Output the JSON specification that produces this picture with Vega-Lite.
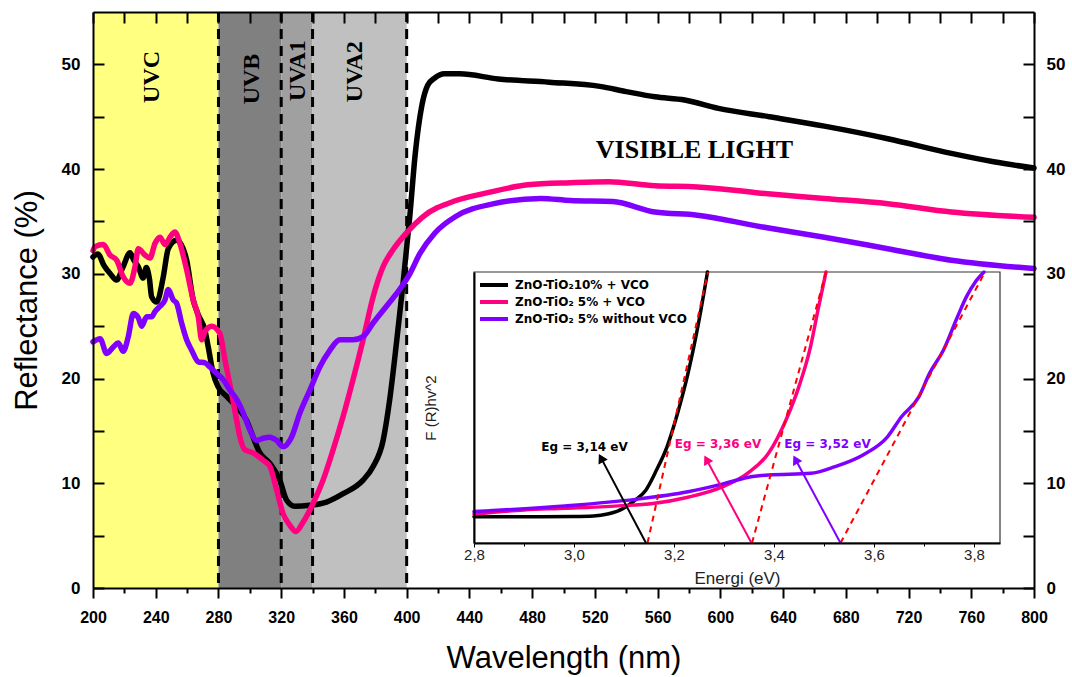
{
  "$schema": "https://vega.github.io/schema/vega-lite/v6.json",
  "width": 941,
  "height": 576,
  "autosize": {"type": "none"},
  "padding": {"left": 93, "top": 12, "right": 38, "bottom": 89},
  "background": "white",
  "config": {"view": {"stroke": null}, "font": "Liberation Sans"},
  "datasets": {
    "bands": [
      {"band": "UVC", "start": 200, "end": 280},
      {"band": "UVB", "start": 280, "end": 320},
      {"band": "UVA1", "start": 320, "end": 340},
      {"band": "UVA2", "start": 340, "end": 400}
    ],
    "bounds": [{"wl": 280}, {"wl": 320}, {"wl": 340}, {"wl": 400}],
    "bandLabels": [
      {"label": "UVC", "wl": 237.6, "R": 48.8},
      {"label": "UVB", "wl": 301.3, "R": 48.6},
      {"label": "UVA1", "wl": 330.6, "R": 49.4},
      {"label": "UVA2", "wl": 366.9, "R": 49.3}
    ],
    "visible": [{"label": "VISIBLE LIGHT", "wl": 583.5, "R": 41.8}],
    "frame": [{"x1": 2.8, "x2": 3.852, "y1": 0, "y2": 100}],
    "main": [
      {"series": "ZnO-TiO₂10% + VCO", "wl": 200, "R": 31.6},
      {"series": "ZnO-TiO₂10% + VCO", "wl": 203, "R": 31.9},
      {"series": "ZnO-TiO₂10% + VCO", "wl": 207, "R": 30.8},
      {"series": "ZnO-TiO₂10% + VCO", "wl": 211, "R": 30.0},
      {"series": "ZnO-TiO₂10% + VCO", "wl": 215, "R": 29.4},
      {"series": "ZnO-TiO₂10% + VCO", "wl": 219, "R": 30.6},
      {"series": "ZnO-TiO₂10% + VCO", "wl": 223.6, "R": 32.0},
      {"series": "ZnO-TiO₂10% + VCO", "wl": 226, "R": 31.3},
      {"series": "ZnO-TiO₂10% + VCO", "wl": 228.8, "R": 30.7},
      {"series": "ZnO-TiO₂10% + VCO", "wl": 232, "R": 29.6},
      {"series": "ZnO-TiO₂10% + VCO", "wl": 234, "R": 30.6},
      {"series": "ZnO-TiO₂10% + VCO", "wl": 236, "R": 29.5},
      {"series": "ZnO-TiO₂10% + VCO", "wl": 237.4, "R": 27.8},
      {"series": "ZnO-TiO₂10% + VCO", "wl": 240.6, "R": 27.3},
      {"series": "ZnO-TiO₂10% + VCO", "wl": 244.8, "R": 29.7},
      {"series": "ZnO-TiO₂10% + VCO", "wl": 248, "R": 32.4},
      {"series": "ZnO-TiO₂10% + VCO", "wl": 253.3, "R": 33.2},
      {"series": "ZnO-TiO₂10% + VCO", "wl": 257.5, "R": 32.4},
      {"series": "ZnO-TiO₂10% + VCO", "wl": 259.7, "R": 31.3},
      {"series": "ZnO-TiO₂10% + VCO", "wl": 263.9, "R": 27.5},
      {"series": "ZnO-TiO₂10% + VCO", "wl": 267.1, "R": 26.1},
      {"series": "ZnO-TiO₂10% + VCO", "wl": 271.4, "R": 24.6},
      {"series": "ZnO-TiO₂10% + VCO", "wl": 273.5, "R": 23.0},
      {"series": "ZnO-TiO₂10% + VCO", "wl": 276.6, "R": 20.5},
      {"series": "ZnO-TiO₂10% + VCO", "wl": 279.8, "R": 19.2},
      {"series": "ZnO-TiO₂10% + VCO", "wl": 285.2, "R": 18.3},
      {"series": "ZnO-TiO₂10% + VCO", "wl": 291.5, "R": 17.3},
      {"series": "ZnO-TiO₂10% + VCO", "wl": 297.9, "R": 16.0},
      {"series": "ZnO-TiO₂10% + VCO", "wl": 301.1, "R": 14.8},
      {"series": "ZnO-TiO₂10% + VCO", "wl": 306.4, "R": 12.9},
      {"series": "ZnO-TiO₂10% + VCO", "wl": 312.8, "R": 11.9},
      {"series": "ZnO-TiO₂10% + VCO", "wl": 319.1, "R": 10.3},
      {"series": "ZnO-TiO₂10% + VCO", "wl": 323.4, "R": 8.4},
      {"series": "ZnO-TiO₂10% + VCO", "wl": 328.7, "R": 7.8},
      {"series": "ZnO-TiO₂10% + VCO", "wl": 338.3, "R": 7.9},
      {"series": "ZnO-TiO₂10% + VCO", "wl": 348.9, "R": 8.2},
      {"series": "ZnO-TiO₂10% + VCO", "wl": 359.5, "R": 9.0},
      {"series": "ZnO-TiO₂10% + VCO", "wl": 372.2, "R": 10.3},
      {"series": "ZnO-TiO₂10% + VCO", "wl": 378.6, "R": 11.6},
      {"series": "ZnO-TiO₂10% + VCO", "wl": 385, "R": 14.1},
      {"series": "ZnO-TiO₂10% + VCO", "wl": 389.2, "R": 18.0},
      {"series": "ZnO-TiO₂10% + VCO", "wl": 393.5, "R": 23.4},
      {"series": "ZnO-TiO₂10% + VCO", "wl": 397.7, "R": 29.1},
      {"series": "ZnO-TiO₂10% + VCO", "wl": 402, "R": 35.5},
      {"series": "ZnO-TiO₂10% + VCO", "wl": 405.5, "R": 41.5},
      {"series": "ZnO-TiO₂10% + VCO", "wl": 409.6, "R": 46.0},
      {"series": "ZnO-TiO₂10% + VCO", "wl": 413.4, "R": 48.0},
      {"series": "ZnO-TiO₂10% + VCO", "wl": 417.9, "R": 48.7},
      {"series": "ZnO-TiO₂10% + VCO", "wl": 424, "R": 49.1},
      {"series": "ZnO-TiO₂10% + VCO", "wl": 433.8, "R": 49.1},
      {"series": "ZnO-TiO₂10% + VCO", "wl": 458.4, "R": 48.6},
      {"series": "ZnO-TiO₂10% + VCO", "wl": 490.9, "R": 48.3},
      {"series": "ZnO-TiO₂10% + VCO", "wl": 523.2, "R": 47.9},
      {"series": "ZnO-TiO₂10% + VCO", "wl": 540, "R": 47.4},
      {"series": "ZnO-TiO₂10% + VCO", "wl": 558.3, "R": 46.9},
      {"series": "ZnO-TiO₂10% + VCO", "wl": 577.2, "R": 46.6},
      {"series": "ZnO-TiO₂10% + VCO", "wl": 598.8, "R": 45.8},
      {"series": "ZnO-TiO₂10% + VCO", "wl": 631.2, "R": 45.0},
      {"series": "ZnO-TiO₂10% + VCO", "wl": 666.3, "R": 44.1},
      {"series": "ZnO-TiO₂10% + VCO", "wl": 706.8, "R": 42.9},
      {"series": "ZnO-TiO₂10% + VCO", "wl": 747.3, "R": 41.5},
      {"series": "ZnO-TiO₂10% + VCO", "wl": 774.3, "R": 40.7},
      {"series": "ZnO-TiO₂10% + VCO", "wl": 800, "R": 40.1},

      {"series": "ZnO-TiO₂ 5% + VCO", "wl": 200, "R": 32.2},
      {"series": "ZnO-TiO₂ 5% + VCO", "wl": 201.3, "R": 32.6},
      {"series": "ZnO-TiO₂ 5% + VCO", "wl": 206.6, "R": 32.8},
      {"series": "ZnO-TiO₂ 5% + VCO", "wl": 210.8, "R": 31.8},
      {"series": "ZnO-TiO₂ 5% + VCO", "wl": 215.1, "R": 31.3},
      {"series": "ZnO-TiO₂ 5% + VCO", "wl": 219.3, "R": 29.7},
      {"series": "ZnO-TiO₂ 5% + VCO", "wl": 223.6, "R": 29.1},
      {"series": "ZnO-TiO₂ 5% + VCO", "wl": 226.8, "R": 30.7},
      {"series": "ZnO-TiO₂ 5% + VCO", "wl": 228.9, "R": 32.4},
      {"series": "ZnO-TiO₂ 5% + VCO", "wl": 233.1, "R": 31.8},
      {"series": "ZnO-TiO₂ 5% + VCO", "wl": 236.3, "R": 31.5},
      {"series": "ZnO-TiO₂ 5% + VCO", "wl": 239.5, "R": 32.9},
      {"series": "ZnO-TiO₂ 5% + VCO", "wl": 242.7, "R": 33.5},
      {"series": "ZnO-TiO₂ 5% + VCO", "wl": 245.9, "R": 32.8},
      {"series": "ZnO-TiO₂ 5% + VCO", "wl": 249.1, "R": 33.5},
      {"series": "ZnO-TiO₂ 5% + VCO", "wl": 252.2, "R": 34.0},
      {"series": "ZnO-TiO₂ 5% + VCO", "wl": 255.4, "R": 32.9},
      {"series": "ZnO-TiO₂ 5% + VCO", "wl": 259.7, "R": 30.4},
      {"series": "ZnO-TiO₂ 5% + VCO", "wl": 263.9, "R": 27.5},
      {"series": "ZnO-TiO₂ 5% + VCO", "wl": 267.1, "R": 25.9},
      {"series": "ZnO-TiO₂ 5% + VCO", "wl": 269.3, "R": 23.7},
      {"series": "ZnO-TiO₂ 5% + VCO", "wl": 271.4, "R": 24.5},
      {"series": "ZnO-TiO₂ 5% + VCO", "wl": 275.6, "R": 25.0},
      {"series": "ZnO-TiO₂ 5% + VCO", "wl": 280.9, "R": 24.3},
      {"series": "ZnO-TiO₂ 5% + VCO", "wl": 284.1, "R": 21.8},
      {"series": "ZnO-TiO₂ 5% + VCO", "wl": 288.4, "R": 18.6},
      {"series": "ZnO-TiO₂ 5% + VCO", "wl": 291.6, "R": 16.0},
      {"series": "ZnO-TiO₂ 5% + VCO", "wl": 293.7, "R": 14.4},
      {"series": "ZnO-TiO₂ 5% + VCO", "wl": 296.8, "R": 13.2},
      {"series": "ZnO-TiO₂ 5% + VCO", "wl": 302.1, "R": 12.9},
      {"series": "ZnO-TiO₂ 5% + VCO", "wl": 308.5, "R": 12.2},
      {"series": "ZnO-TiO₂ 5% + VCO", "wl": 312.8, "R": 11.6},
      {"series": "ZnO-TiO₂ 5% + VCO", "wl": 317.0, "R": 9.4},
      {"series": "ZnO-TiO₂ 5% + VCO", "wl": 321.2, "R": 7.1},
      {"series": "ZnO-TiO₂ 5% + VCO", "wl": 325.5, "R": 6.0},
      {"series": "ZnO-TiO₂ 5% + VCO", "wl": 329.3, "R": 5.4},
      {"series": "ZnO-TiO₂ 5% + VCO", "wl": 334.0, "R": 6.3},
      {"series": "ZnO-TiO₂ 5% + VCO", "wl": 340.4, "R": 8.1},
      {"series": "ZnO-TiO₂ 5% + VCO", "wl": 346.7, "R": 10.3},
      {"series": "ZnO-TiO₂ 5% + VCO", "wl": 353.1, "R": 13.2},
      {"series": "ZnO-TiO₂ 5% + VCO", "wl": 359.5, "R": 16.4},
      {"series": "ZnO-TiO₂ 5% + VCO", "wl": 365.8, "R": 19.9},
      {"series": "ZnO-TiO₂ 5% + VCO", "wl": 372.2, "R": 23.7},
      {"series": "ZnO-TiO₂ 5% + VCO", "wl": 378.6, "R": 27.8},
      {"series": "ZnO-TiO₂ 5% + VCO", "wl": 385.0, "R": 30.7},
      {"series": "ZnO-TiO₂ 5% + VCO", "wl": 391.3, "R": 32.3},
      {"series": "ZnO-TiO₂ 5% + VCO", "wl": 399.8, "R": 33.9},
      {"series": "ZnO-TiO₂ 5% + VCO", "wl": 409.9, "R": 35.4},
      {"series": "ZnO-TiO₂ 5% + VCO", "wl": 431.5, "R": 37.0},
      {"series": "ZnO-TiO₂ 5% + VCO", "wl": 450.3, "R": 37.7},
      {"series": "ZnO-TiO₂ 5% + VCO", "wl": 477.3, "R": 38.5},
      {"series": "ZnO-TiO₂ 5% + VCO", "wl": 504.3, "R": 38.7},
      {"series": "ZnO-TiO₂ 5% + VCO", "wl": 528.6, "R": 38.8},
      {"series": "ZnO-TiO₂ 5% + VCO", "wl": 558.3, "R": 38.4},
      {"series": "ZnO-TiO₂ 5% + VCO", "wl": 585.3, "R": 38.3},
      {"series": "ZnO-TiO₂ 5% + VCO", "wl": 625.8, "R": 37.7},
      {"series": "ZnO-TiO₂ 5% + VCO", "wl": 666.3, "R": 37.2},
      {"series": "ZnO-TiO₂ 5% + VCO", "wl": 706.8, "R": 36.7},
      {"series": "ZnO-TiO₂ 5% + VCO", "wl": 747.3, "R": 35.9},
      {"series": "ZnO-TiO₂ 5% + VCO", "wl": 800, "R": 35.4},

      {"series": "ZnO-TiO₂ 5% without VCO", "wl": 200, "R": 23.5},
      {"series": "ZnO-TiO₂ 5% without VCO", "wl": 204.5, "R": 23.8},
      {"series": "ZnO-TiO₂ 5% without VCO", "wl": 208.7, "R": 22.4},
      {"series": "ZnO-TiO₂ 5% without VCO", "wl": 212.9, "R": 23.0},
      {"series": "ZnO-TiO₂ 5% without VCO", "wl": 216.1, "R": 23.4},
      {"series": "ZnO-TiO₂ 5% without VCO", "wl": 219.3, "R": 22.6},
      {"series": "ZnO-TiO₂ 5% without VCO", "wl": 222.5, "R": 24.0},
      {"series": "ZnO-TiO₂ 5% without VCO", "wl": 225.7, "R": 26.2},
      {"series": "ZnO-TiO₂ 5% without VCO", "wl": 228.9, "R": 25.8},
      {"series": "ZnO-TiO₂ 5% without VCO", "wl": 231.0, "R": 25.0},
      {"series": "ZnO-TiO₂ 5% without VCO", "wl": 234.2, "R": 25.9},
      {"series": "ZnO-TiO₂ 5% without VCO", "wl": 237.4, "R": 25.9},
      {"series": "ZnO-TiO₂ 5% without VCO", "wl": 239.5, "R": 26.4},
      {"series": "ZnO-TiO₂ 5% without VCO", "wl": 242.7, "R": 26.9},
      {"series": "ZnO-TiO₂ 5% without VCO", "wl": 245.9, "R": 27.5},
      {"series": "ZnO-TiO₂ 5% without VCO", "wl": 248.0, "R": 28.5},
      {"series": "ZnO-TiO₂ 5% without VCO", "wl": 251.2, "R": 27.5},
      {"series": "ZnO-TiO₂ 5% without VCO", "wl": 253.3, "R": 27.2},
      {"series": "ZnO-TiO₂ 5% without VCO", "wl": 256.5, "R": 25.3},
      {"series": "ZnO-TiO₂ 5% without VCO", "wl": 259.7, "R": 23.7},
      {"series": "ZnO-TiO₂ 5% without VCO", "wl": 262.9, "R": 22.7},
      {"series": "ZnO-TiO₂ 5% without VCO", "wl": 267.1, "R": 21.6},
      {"series": "ZnO-TiO₂ 5% without VCO", "wl": 271.4, "R": 21.5},
      {"series": "ZnO-TiO₂ 5% without VCO", "wl": 274.5, "R": 21.1},
      {"series": "ZnO-TiO₂ 5% without VCO", "wl": 278.8, "R": 20.5},
      {"series": "ZnO-TiO₂ 5% without VCO", "wl": 283.0, "R": 19.9},
      {"series": "ZnO-TiO₂ 5% without VCO", "wl": 287.3, "R": 18.9},
      {"series": "ZnO-TiO₂ 5% without VCO", "wl": 291.6, "R": 18.0},
      {"series": "ZnO-TiO₂ 5% without VCO", "wl": 295.8, "R": 16.7},
      {"series": "ZnO-TiO₂ 5% without VCO", "wl": 300.0, "R": 15.1},
      {"series": "ZnO-TiO₂ 5% without VCO", "wl": 304.3, "R": 14.1},
      {"series": "ZnO-TiO₂ 5% without VCO", "wl": 308.5, "R": 14.3},
      {"series": "ZnO-TiO₂ 5% without VCO", "wl": 312.8, "R": 14.4},
      {"series": "ZnO-TiO₂ 5% without VCO", "wl": 317.0, "R": 14.1},
      {"series": "ZnO-TiO₂ 5% without VCO", "wl": 321.2, "R": 13.5},
      {"series": "ZnO-TiO₂ 5% without VCO", "wl": 326.6, "R": 14.4},
      {"series": "ZnO-TiO₂ 5% without VCO", "wl": 331.9, "R": 16.7},
      {"series": "ZnO-TiO₂ 5% without VCO", "wl": 338.3, "R": 18.9},
      {"series": "ZnO-TiO₂ 5% without VCO", "wl": 344.6, "R": 21.1},
      {"series": "ZnO-TiO₂ 5% without VCO", "wl": 351.0, "R": 22.7},
      {"series": "ZnO-TiO₂ 5% without VCO", "wl": 357.4, "R": 23.7},
      {"series": "ZnO-TiO₂ 5% without VCO", "wl": 365.8, "R": 23.7},
      {"series": "ZnO-TiO₂ 5% without VCO", "wl": 372.2, "R": 24.0},
      {"series": "ZnO-TiO₂ 5% without VCO", "wl": 378.6, "R": 25.3},
      {"series": "ZnO-TiO₂ 5% without VCO", "wl": 387.1, "R": 26.9},
      {"series": "ZnO-TiO₂ 5% without VCO", "wl": 393.5, "R": 28.1},
      {"series": "ZnO-TiO₂ 5% without VCO", "wl": 402.0, "R": 30.0},
      {"series": "ZnO-TiO₂ 5% without VCO", "wl": 408.3, "R": 31.9},
      {"series": "ZnO-TiO₂ 5% without VCO", "wl": 418, "R": 33.9},
      {"series": "ZnO-TiO₂ 5% without VCO", "wl": 431.5, "R": 35.5},
      {"series": "ZnO-TiO₂ 5% without VCO", "wl": 455.7, "R": 36.7},
      {"series": "ZnO-TiO₂ 5% without VCO", "wl": 485.4, "R": 37.2},
      {"series": "ZnO-TiO₂ 5% without VCO", "wl": 504.3, "R": 37.0},
      {"series": "ZnO-TiO₂ 5% without VCO", "wl": 531.3, "R": 36.9},
      {"series": "ZnO-TiO₂ 5% without VCO", "wl": 558.3, "R": 35.9},
      {"series": "ZnO-TiO₂ 5% without VCO", "wl": 585.3, "R": 35.6},
      {"series": "ZnO-TiO₂ 5% without VCO", "wl": 625.8, "R": 34.5},
      {"series": "ZnO-TiO₂ 5% without VCO", "wl": 666.3, "R": 33.5},
      {"series": "ZnO-TiO₂ 5% without VCO", "wl": 706.8, "R": 32.4},
      {"series": "ZnO-TiO₂ 5% without VCO", "wl": 747.3, "R": 31.3},
      {"series": "ZnO-TiO₂ 5% without VCO", "wl": 800, "R": 30.5}
    ],
    "inset": [
      {"series": "ZnO-TiO₂10% + VCO", "E": 2.8, "F": 9.7},
      {"series": "ZnO-TiO₂10% + VCO", "E": 2.9, "F": 9.7},
      {"series": "ZnO-TiO₂10% + VCO", "E": 3.0, "F": 9.8},
      {"series": "ZnO-TiO₂10% + VCO", "E": 3.039, "F": 10.0},
      {"series": "ZnO-TiO₂10% + VCO", "E": 3.067, "F": 10.7},
      {"series": "ZnO-TiO₂10% + VCO", "E": 3.095, "F": 12.4},
      {"series": "ZnO-TiO₂10% + VCO", "E": 3.123, "F": 15.9},
      {"series": "ZnO-TiO₂10% + VCO", "E": 3.144, "F": 19.6},
      {"series": "ZnO-TiO₂10% + VCO", "E": 3.165, "F": 26.9},
      {"series": "ZnO-TiO₂10% + VCO", "E": 3.186, "F": 35.5},
      {"series": "ZnO-TiO₂10% + VCO", "E": 3.207, "F": 47.8},
      {"series": "ZnO-TiO₂10% + VCO", "E": 3.228, "F": 62.6},
      {"series": "ZnO-TiO₂10% + VCO", "E": 3.249, "F": 81.1},
      {"series": "ZnO-TiO₂10% + VCO", "E": 3.267, "F": 100},

      {"series": "ZnO-TiO₂ 5% + VCO", "E": 2.8, "F": 10.7},
      {"series": "ZnO-TiO₂ 5% + VCO", "E": 2.9, "F": 12.2},
      {"series": "ZnO-TiO₂ 5% + VCO", "E": 2.982, "F": 12.8},
      {"series": "ZnO-TiO₂ 5% + VCO", "E": 3.088, "F": 13.7},
      {"series": "ZnO-TiO₂ 5% + VCO", "E": 3.158, "F": 14.6},
      {"series": "ZnO-TiO₂ 5% + VCO", "E": 3.228, "F": 16.9},
      {"series": "ZnO-TiO₂ 5% + VCO", "E": 3.298, "F": 20.8},
      {"series": "ZnO-TiO₂ 5% + VCO", "E": 3.347, "F": 25.7},
      {"series": "ZnO-TiO₂ 5% + VCO", "E": 3.389, "F": 33.1},
      {"series": "ZnO-TiO₂ 5% + VCO", "E": 3.424, "F": 45.4},
      {"series": "ZnO-TiO₂ 5% + VCO", "E": 3.452, "F": 58.9},
      {"series": "ZnO-TiO₂ 5% + VCO", "E": 3.473, "F": 72.4},
      {"series": "ZnO-TiO₂ 5% + VCO", "E": 3.488, "F": 86.0},
      {"series": "ZnO-TiO₂ 5% + VCO", "E": 3.504, "F": 100},

      {"series": "ZnO-TiO₂ 5% without VCO", "E": 2.8, "F": 11.6},
      {"series": "ZnO-TiO₂ 5% without VCO", "E": 2.982, "F": 13.7},
      {"series": "ZnO-TiO₂ 5% without VCO", "E": 3.123, "F": 16.1},
      {"series": "ZnO-TiO₂ 5% without VCO", "E": 3.228, "F": 18.9},
      {"series": "ZnO-TiO₂ 5% without VCO", "E": 3.298, "F": 21.8},
      {"series": "ZnO-TiO₂ 5% without VCO", "E": 3.347, "F": 24.2},
      {"series": "ZnO-TiO₂ 5% without VCO", "E": 3.389, "F": 25.1},
      {"series": "ZnO-TiO₂ 5% without VCO", "E": 3.473, "F": 25.7},
      {"series": "ZnO-TiO₂ 5% without VCO", "E": 3.522, "F": 28.2},
      {"series": "ZnO-TiO₂ 5% without VCO", "E": 3.578, "F": 32.5},
      {"series": "ZnO-TiO₂ 5% without VCO", "E": 3.627, "F": 39.2},
      {"series": "ZnO-TiO₂ 5% without VCO", "E": 3.655, "F": 46.6},
      {"series": "ZnO-TiO₂ 5% without VCO", "E": 3.69, "F": 54.0},
      {"series": "ZnO-TiO₂ 5% without VCO", "E": 3.711, "F": 62.6},
      {"series": "ZnO-TiO₂ 5% without VCO", "E": 3.739, "F": 71.2},
      {"series": "ZnO-TiO₂ 5% without VCO", "E": 3.767, "F": 83.5},
      {"series": "ZnO-TiO₂ 5% without VCO", "E": 3.785, "F": 90.9},
      {"series": "ZnO-TiO₂ 5% without VCO", "E": 3.803, "F": 96.4},
      {"series": "ZnO-TiO₂ 5% without VCO", "E": 3.82, "F": 100}
    ],
    "tangents": [
      {"series": "ZnO-TiO₂10% + VCO", "E": 3.147, "F": 0},
      {"series": "ZnO-TiO₂10% + VCO", "E": 3.268, "F": 100},
      {"series": "ZnO-TiO₂ 5% + VCO", "E": 3.356, "F": 0},
      {"series": "ZnO-TiO₂ 5% + VCO", "E": 3.504, "F": 100},
      {"series": "ZnO-TiO₂ 5% without VCO", "E": 3.533, "F": 0},
      {"series": "ZnO-TiO₂ 5% without VCO", "E": 3.822, "F": 100}
    ],
    "arrows": [
      {"series": "ZnO-TiO₂10% + VCO", "E": 3.144, "F": 0, "E2": 3.054, "F2": 31.4, "label": "Eg = 3,14 eV", "LE": 3.021, "LF": 35.5},
      {"series": "ZnO-TiO₂ 5% + VCO", "E": 3.355, "F": 0, "E2": 3.265, "F2": 30.8, "label": "Eg = 3,36 eV", "LE": 3.288, "LF": 36.4},
      {"series": "ZnO-TiO₂ 5% without VCO", "E": 3.533, "F": 0, "E2": 3.443, "F2": 30.8, "label": "Eg = 3,52 eV", "LE": 3.507, "LF": 36.4}
    ]
  },
  "layer": [
    {
      "layer": [
        {
          "data": {"name": "bands"},
          "mark": {"type": "rect"},
          "encoding": {
            "x": {
              "field": "start", "type": "quantitative",
              "scale": {"domain": [200, 800], "nice": false, "zero": false},
              "axis": {
                "orient": "bottom", "zindex": 1, "grid": false,
                "values": [200,220,240,260,280,300,320,340,360,380,400,420,440,460,480,500,520,540,560,580,600,620,640,660,680,700,720,740,760,780,800],
                "labelExpr": "datum.value % 40 === 0 ? datum.label : ''",
                "tickSize": {"condition": {"test": "datum.value % 40 === 0", "value": 10}, "value": 5},
                "tickWidth": 2, "tickColor": "black", "domainWidth": 2, "domainColor": "black",
                "labelFont": "Liberation Sans", "labelFontWeight": "bold", "labelFontSize": 16, "labelColor": "black",
                "labelPadding": 11, "labelOverlap": false, "labelFlush": false, "labelBound": false,
                "title": "Wavelength (nm)", "titleFont": "Liberation Sans", "titleFontSize": 31, "titleFontWeight": "normal", "titleColor": "black", "titlePadding": 18
              }
            },
            "x2": {"field": "end"},
            "fill": {
              "field": "band", "type": "nominal", "legend": null,
              "scale": {"domain": ["UVC", "UVB", "UVA1", "UVA2"], "range": ["#FFFF80", "#808080", "#A0A0A0", "#C0C0C0"]}
            }
          }
        },
        {
          "data": {"name": "bounds"},
          "mark": {"type": "rule", "color": "black", "strokeWidth": 3, "strokeDash": [10, 7]},
          "encoding": {
            "x": {"field": "wl", "type": "quantitative", "axis": null}
          }
        },
        {
          "data": {"name": "bandLabels"},
          "mark": {"type": "text", "font": "Liberation Serif", "fontWeight": "bold", "fontSize": 24, "angle": 270, "align": "center", "baseline": "middle", "color": "black"},
          "encoding": {
            "x": {"field": "wl", "type": "quantitative", "axis": null},
            "y": {
              "field": "R", "type": "quantitative",
              "scale": {"domain": [0, 55], "nice": false, "zero": false},
              "axis": {
                "orient": "left", "zindex": 1, "grid": false,
                "values": [0,5,10,15,20,25,30,35,40,45,50],
                "labelExpr": "datum.value % 10 === 0 ? datum.label : ''",
                "tickSize": -11, "tickWidth": 2, "tickColor": "black", "domainWidth": 2, "domainColor": "black",
                "labelFont": "Liberation Sans", "labelFontWeight": "bold", "labelFontSize": 17, "labelColor": "black",
                "labelPadding": 24, "labelOverlap": false, "labelFlush": false, "labelBound": false,
                "title": "Reflectance (%)", "titleFont": "Liberation Sans", "titleFontSize": 31, "titleFontWeight": "normal", "titleColor": "black", "titlePadding": 18
              }
            },
            "text": {"field": "label"}
          }
        },
        {
          "data": {"name": "visible"},
          "mark": {"type": "text", "font": "Liberation Serif", "fontWeight": "bold", "fontSize": 26, "align": "center", "baseline": "middle", "color": "black"},
          "encoding": {
            "x": {"field": "wl", "type": "quantitative", "axis": null},
            "y": {"field": "R", "type": "quantitative", "axis": null},
            "text": {"field": "label"}
          }
        },
        {
          "data": {"name": "main"},
          "mark": {"type": "line", "strokeWidth": 5.5, "interpolate": "monotone", "strokeCap": "round", "strokeJoin": "round"},
          "encoding": {
            "x": {
              "field": "wl", "type": "quantitative",
              "axis": {
                "orient": "top", "zindex": 1, "grid": false, "labels": false, "title": null,
                "values": [200,220,240,260,280,300,320,340,360,380,400,420,440,460,480,500,520,540,560,580,600,620,640,660,680,700,720,740,760,780,800],
                "tickSize": -11, "tickWidth": 2, "tickColor": "black", "domainWidth": 2, "domainColor": "black"
              }
            },
            "y": {
              "field": "R", "type": "quantitative",
              "axis": {
                "orient": "right", "zindex": 1, "grid": false, "title": null,
                "values": [0,5,10,15,20,25,30,35,40,45,50],
                "labelExpr": "datum.value % 10 === 0 ? datum.label : ''",
                "tickSize": -11, "tickWidth": 2, "tickColor": "black", "domainWidth": 2, "domainColor": "black",
                "labelFont": "Liberation Sans", "labelFontWeight": "bold", "labelFontSize": 17, "labelColor": "black",
                "labelPadding": 23, "labelOverlap": false, "labelFlush": false, "labelBound": false
              }
            },
            "color": {
              "field": "series", "type": "nominal",
              "scale": {"domain": ["ZnO-TiO₂10% + VCO", "ZnO-TiO₂ 5% + VCO", "ZnO-TiO₂ 5% without VCO"], "range": ["#000000", "#FF0080", "#8000FF"]},
              "legend": {
                "orient": "none", "legendX": 385, "legendY": 267, "title": null,
                "symbolType": "stroke", "symbolSize": 784, "symbolStrokeWidth": 4,
                "clipHeight": 12, "rowPadding": 5, "padding": 0,
                "labelFont": "DejaVu Sans", "labelFontWeight": "bold", "labelFontSize": 12, "labelColor": "black",
                "labelOffset": 5, "labelLimit": 400
              }
            }
          }
        }
      ],
      "resolve": {"axis": {"x": "independent", "y": "independent"}}
    },
    {
      "layer": [
        {
          "data": {"name": "frame"},
          "mark": {"type": "rect", "fill": "white", "stroke": "#333333", "strokeWidth": 1.2},
          "encoding": {
            "x": {
              "field": "x1", "type": "quantitative",
              "scale": {"domain": [2.8, 3.852], "range": [381, 907], "nice": false, "zero": false},
              "axis": {
                "orient": "bottom", "offset": -45, "zindex": 1, "grid": false,
                "values": [2.8, 2.9, 3.0, 3.1, 3.2, 3.3, 3.4, 3.5, 3.6, 3.7, 3.8],
                "labelExpr": "round(datum.value * 10) % 2 === 0 ? replace(format(datum.value, '.1f'), '.', ',') : ''",
                "tickSize": {"condition": {"test": "round(datum.value * 10) % 2 === 0", "value": 4}, "value": 3},
                "tickWidth": 1, "tickColor": "black", "domainWidth": 2, "domainColor": "black",
                "labelFont": "Liberation Sans", "labelFontSize": 15, "labelColor": "#222222",
                "labelPadding": 0, "labelOverlap": false, "labelFlush": false, "labelBound": false,
                "title": "Energi (eV)", "titleFont": "Liberation Sans", "titleFontSize": 17, "titleFontWeight": "normal", "titleColor": "#222222", "titlePadding": 8
              }
            },
            "x2": {"field": "x2"},
            "y": {
              "field": "y1", "type": "quantitative",
              "scale": {"domain": [0, 100], "range": [531, 260], "nice": false, "zero": false},
              "axis": {
                "orient": "left", "offset": -381, "zindex": 1, "grid": false,
                "ticks": false, "labels": false,
                "domainWidth": 2, "domainColor": "black",
                "title": "F (R)hv^2", "titleFont": "Liberation Sans", "titleFontSize": 15, "titleFontWeight": "normal", "titleColor": "#222222", "titlePadding": 36
              }
            },
            "y2": {"field": "y2"}
          }
        },
        {
          "data": {"name": "inset"},
          "mark": {"type": "line", "strokeWidth": 3.5, "interpolate": "monotone", "strokeCap": "round"},
          "encoding": {
            "x": {"field": "E", "type": "quantitative"},
            "y": {"field": "F", "type": "quantitative"},
            "color": {"field": "series", "type": "nominal", "legend": null}
          }
        },
        {
          "data": {"name": "tangents"},
          "mark": {"type": "line", "color": "#FF0000", "strokeWidth": 2, "strokeDash": [6, 5]},
          "encoding": {
            "x": {"field": "E", "type": "quantitative"},
            "y": {"field": "F", "type": "quantitative"},
            "detail": {"field": "series"}
          }
        },
        {
          "data": {"name": "arrows"},
          "mark": {"type": "rule", "strokeWidth": 2},
          "encoding": {
            "x": {"field": "E", "type": "quantitative"},
            "y": {"field": "F", "type": "quantitative"},
            "x2": {"field": "E2"},
            "y2": {"field": "F2"},
            "color": {"field": "series", "type": "nominal", "legend": null}
          }
        },
        {
          "data": {"name": "arrows"},
          "mark": {"type": "point", "shape": "triangle-up", "filled": true, "size": 110, "angle": 332, "opacity": 1},
          "encoding": {
            "x": {"field": "E2", "type": "quantitative"},
            "y": {"field": "F2", "type": "quantitative"},
            "color": {"field": "series", "type": "nominal", "legend": null}
          }
        },
        {
          "data": {"name": "arrows"},
          "mark": {"type": "text", "font": "DejaVu Sans", "fontWeight": "bold", "fontSize": 12, "align": "center", "baseline": "middle"},
          "encoding": {
            "x": {"field": "LE", "type": "quantitative"},
            "y": {"field": "LF", "type": "quantitative"},
            "text": {"field": "label"},
            "color": {"field": "series", "type": "nominal", "legend": null}
          }
        }
      ]
    }
  ],
  "resolve": {"scale": {"x": "independent", "y": "independent"}}
}
